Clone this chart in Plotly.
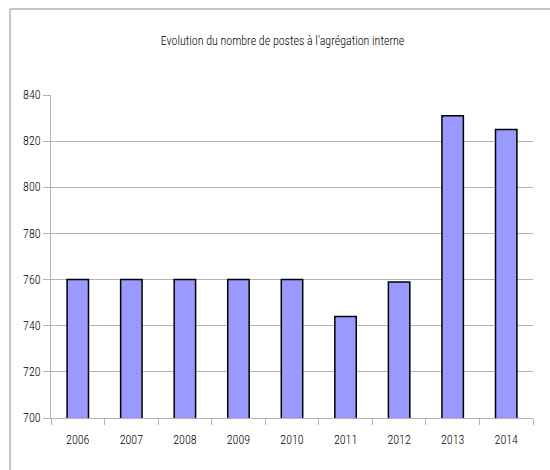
import plotly.graph_objects as go

years = ["2006", "2007", "2008", "2009", "2010", "2011", "2012", "2013", "2014"]
postes = [760, 760, 760, 760, 760, 744, 759, 831, 825]
y_ticks = [700, 720, 740, 760, 780, 800, 820, 840]
title_text = "Evolution du nombre de postes à l'agrégation interne"

FONT = "Roboto Condensed, Liberation Sans Narrow, Arial Narrow, sans-serif"

W, H = 550, 470
L, R, T, B = 51, 17, 95, 52
pw, ph = W - L - R, H - T - B

fig = go.Figure(
    go.Bar(
        x=years,
        y=postes,
        width=0.4,
        marker=dict(color="#9999ff", line=dict(color="#000000", width=1.5)),
        hoverinfo="skip",
    )
)

def px_x(p):
    return (p - L) / pw

def px_y(p):
    return (H - B - p) / ph

# chart frame (top and left light-gray border)
fig.add_shape(type="line", xref="paper", yref="paper",
              x0=px_x(10), x1=px_x(560), y0=px_y(9), y1=px_y(9),
              line=dict(color="#b3b3b3", width=1.5))
fig.add_shape(type="line", xref="paper", yref="paper",
              x0=px_x(10), x1=px_x(10), y0=px_y(9), y1=px_y(480),
              line=dict(color="#b3b3b3", width=1.5))

fig.update_layout(
    width=W, height=H,
    margin=dict(l=L, r=R, t=T, b=B, pad=0),
    paper_bgcolor="white", plot_bgcolor="white",
    showlegend=False,
    font=dict(family=FONT, size=12, color="#000000", weight=300),
    title=dict(text=title_text, x=282.5 / W, xanchor="center",
               y=1 - 41 / H, yanchor="middle", yref="container",
               font=dict(family=FONT, size=12, color="#000000", weight=300)),
    bargap=0.6,
)
fig.update_xaxes(
    type="category",
    showgrid=False,
    showline=True, linecolor="#b3b3b3", linewidth=1,
    ticks="outside", tickson="boundaries", ticklen=6, tickcolor="#b3b3b3",
    ticklabelstandoff=11,
    tickfont=dict(family=FONT, size=12, color="#000000", weight=300),
)
fig.update_yaxes(
    range=[700, 840],
    tickvals=y_ticks,
    showgrid=True, gridcolor="#b3b3b3", gridwidth=1,
    showline=True, linecolor="#b3b3b3", linewidth=1,
    ticks="outside", ticklen=7, tickcolor="#b3b3b3",
    ticklabelstandoff=0,
    zeroline=False,
    tickfont=dict(family=FONT, size=12, color="#000000", weight=300),
)

fig.write_html("out.html", config={"displayModeBar": False},
               post_script="document.body.style.margin='0';")
